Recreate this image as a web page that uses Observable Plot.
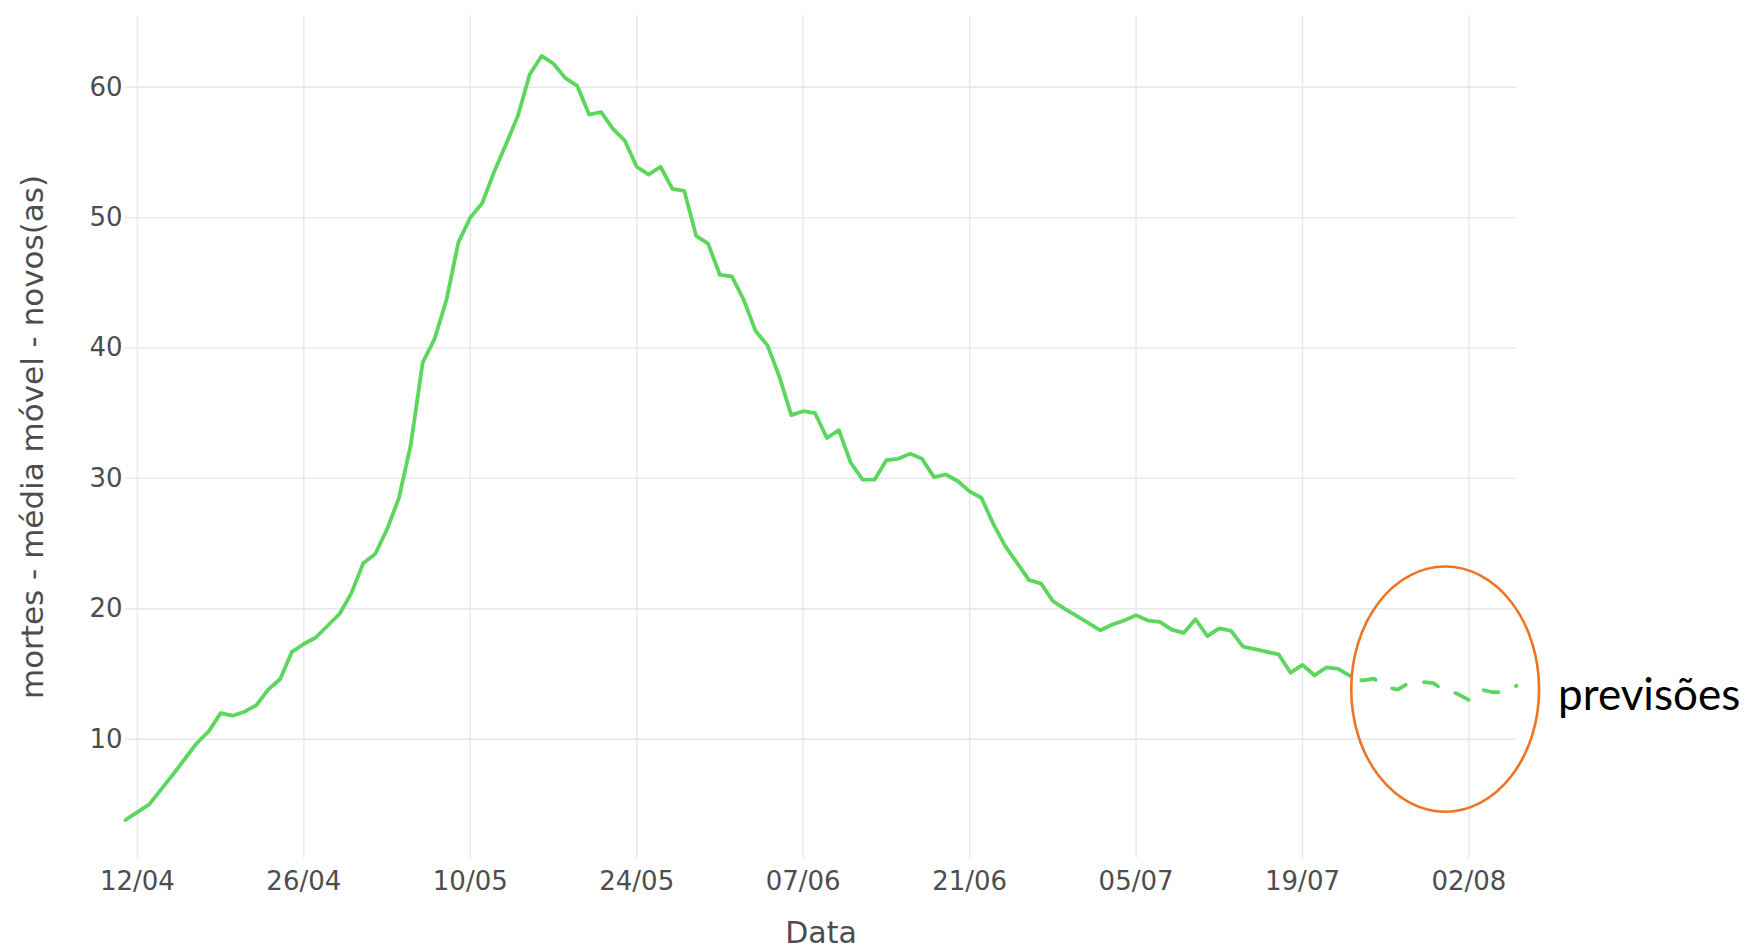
<!DOCTYPE html>
<html>
<head>
<meta charset="utf-8">
<script src="https://cdn.jsdelivr.net/npm/d3@7"></script>
<script src="https://cdn.jsdelivr.net/npm/@observablehq/plot@0.6"></script>
<style>
  html, body { margin: 0; padding: 0; background: #ffffff; }
  #chart { width: 1747px; height: 948px; }
</style>
</head>
<body>
<div id="chart"></div>
<script>
// ---- data ----
const observedDates = [
  "2020-04-11","2020-04-12","2020-04-13","2020-04-14","2020-04-15","2020-04-16","2020-04-17","2020-04-18","2020-04-19","2020-04-20",
  "2020-04-21","2020-04-22","2020-04-23","2020-04-24","2020-04-25","2020-04-26","2020-04-27","2020-04-28","2020-04-29","2020-04-30",
  "2020-05-01","2020-05-02","2020-05-03","2020-05-04","2020-05-05","2020-05-06","2020-05-07","2020-05-08","2020-05-09","2020-05-10",
  "2020-05-11","2020-05-12","2020-05-13","2020-05-14","2020-05-15","2020-05-16","2020-05-17","2020-05-18","2020-05-19","2020-05-20",
  "2020-05-21","2020-05-22","2020-05-23","2020-05-24","2020-05-25","2020-05-26","2020-05-27","2020-05-28","2020-05-29","2020-05-30",
  "2020-05-31","2020-06-01","2020-06-02","2020-06-03","2020-06-04","2020-06-05","2020-06-06","2020-06-07","2020-06-08","2020-06-09",
  "2020-06-10","2020-06-11","2020-06-12","2020-06-13","2020-06-14","2020-06-15","2020-06-16","2020-06-17","2020-06-18","2020-06-19",
  "2020-06-20","2020-06-21","2020-06-22","2020-06-23","2020-06-24","2020-06-25","2020-06-26","2020-06-27","2020-06-28","2020-06-29",
  "2020-06-30","2020-07-01","2020-07-02","2020-07-03","2020-07-04","2020-07-05","2020-07-06","2020-07-07","2020-07-08","2020-07-09",
  "2020-07-10","2020-07-11","2020-07-12","2020-07-13","2020-07-14","2020-07-15","2020-07-16","2020-07-17","2020-07-18","2020-07-19",
  "2020-07-20","2020-07-21","2020-07-22","2020-07-23"
];
const observedValues = [
  3.8, 4.4, 5.0, 6.15, 7.3, 8.5, 9.7, 10.6, 12.0, 11.8,
  12.1, 12.6, 13.8, 14.6, 16.7, 17.3, 17.8, 18.7, 19.6, 21.2,
  23.5, 24.2, 26.1, 28.5, 32.6, 38.9, 40.7, 43.7, 48.1, 50.0,
  51.1, 53.5, 55.6, 57.8, 61.0, 62.4, 61.8, 60.7, 60.1, 57.9,
  58.1, 56.8, 55.9, 53.9, 53.3, 53.9, 52.2, 52.05, 48.6, 48.0,
  45.6, 45.5, 43.7, 41.3, 40.2, 37.8, 34.85, 35.15, 35.0, 33.1,
  33.7, 31.2, 29.9, 29.9, 31.4, 31.5, 31.9, 31.5, 30.1, 30.3,
  29.8, 29.0, 28.5, 26.5, 24.8, 23.5, 22.2, 21.95, 20.6, 20.0,
  19.45, 18.9, 18.35, 18.8, 19.1, 19.5, 19.1, 19.0, 18.4, 18.15,
  19.2, 17.9, 18.5, 18.3, 17.1, 16.9, 16.7, 16.5, 15.1, 15.7,
  14.9, 15.5, 15.4, 14.85
];
const forecastDates = [
  "2020-07-23","2020-07-24","2020-07-25","2020-07-26","2020-07-27","2020-07-28","2020-07-29","2020-07-30",
  "2020-07-31","2020-08-01","2020-08-02","2020-08-03","2020-08-04","2020-08-05","2020-08-06"
];
const forecastValues = [14.85, 14.5, 14.65, 14.0, 13.8, 14.35, 14.4, 14.3, 13.7, 13.5, 13.0, 13.8, 13.6, 13.6, 14.1];

const xTickDates = ["2020-04-12","2020-04-26","2020-05-10","2020-05-24","2020-06-07","2020-06-21","2020-07-05","2020-07-19","2020-08-02"];
const yTickValues = [10, 20, 30, 40, 50, 60];

const yTitle = "mortes - média móvel - novos(as)";
const xTitle = "Data";
const forecastLabel = "previsões";
const forecastLabelAt = {date: "2020-08-09T12:00:00Z", value: 13.3};
const ellipseAt = {date: "2020-07-31T01:00:00Z", value: 13.8, radiusDays: 7.9, radiusValue: 9.4};

// ---- build tables ----
const parse = s => new Date(s.length === 10 ? s + "T00:00:00Z" : s);
const observed = observedDates.map((d, i) => ({date: parse(d), value: observedValues[i]}));
const forecast = forecastDates.map((d, i) => ({date: parse(d), value: forecastValues[i]}));
const xTicks = xTickDates.map(parse);

const green = "#5dd65d";
const textGray = "#4d4d4d";
const fmt = d3.utcFormat("%d/%m");

const chart = Plot.plot({
  width: 1747,
  height: 948,
  marginLeft: 125,
  marginRight: 231,
  marginTop: 15,
  marginBottom: 90,
  style: {fontFamily: "'DejaVu Sans', Verdana, sans-serif", fontSize: "26px", color: textGray, background: "#ffffff", overflow: "visible"},
  x: {type: "utc", domain: [parse("2020-04-11"), parse("2020-08-06")]},
  y: {domain: [0.85, 65.5]},
  marks: [
    Plot.gridY(yTickValues, {stroke: "#e8e8e8", strokeOpacity: 1, strokeWidth: 1.4}),
    Plot.gridX(xTicks, {stroke: "#e8e8e8", strokeOpacity: 1, strokeWidth: 1.4}),
    Plot.axisY(yTickValues, {tickSize: 0, tickPadding: 3, fontSize: 26, label: null, fill: textGray}),
    Plot.axisX(xTicks, {tickSize: 0, tickPadding: 13, fontSize: 26, label: null, tickFormat: fmt, fill: textGray}),
    Plot.line(observed, {x: "date", y: "value", stroke: green, strokeWidth: 3.8, strokeLinejoin: "round"}),
    Plot.line(forecast, {x: "date", y: "value", stroke: green, strokeWidth: 3.8, strokeDasharray: "15,19", strokeDashoffset: 22}),
    Plot.text([yTitle], {frameAnchor: "left", dx: -92, rotate: -90, textAnchor: "middle", fontSize: 31, fill: textGray, lineAnchor: "middle"}),
    Plot.text([xTitle], {frameAnchor: "bottom", dy: 75, textAnchor: "middle", fontSize: 30, fill: textGray, lineAnchor: "middle"}),
    Plot.text([forecastLabel], {x: () => parse(forecastLabelAt.date), y: () => forecastLabelAt.value, textAnchor: "start", lineAnchor: "middle", fontSize: 44, fill: "#000000", fontFamily: "Lato, 'Open Sans', sans-serif"})
  ]
});

// orange ellipse annotation, positioned with the chart's own scales
const sx = chart.scale("x"), sy = chart.scale("y");
const cDate = parse(ellipseAt.date);
const cx = sx.apply(cDate);
const cy = sy.apply(ellipseAt.value);
const rx = sx.apply(new Date(cDate.getTime() + ellipseAt.radiusDays * 864e5)) - cx;
const ry = cy - sy.apply(ellipseAt.value + ellipseAt.radiusValue);
d3.select(chart).append("ellipse")
  .attr("cx", cx).attr("cy", cy).attr("rx", rx).attr("ry", ry)
  .attr("fill", "none").attr("stroke", "#ee7424").attr("stroke-width", 2.6);

document.getElementById("chart").appendChild(chart);
</script>
</body>
</html>
